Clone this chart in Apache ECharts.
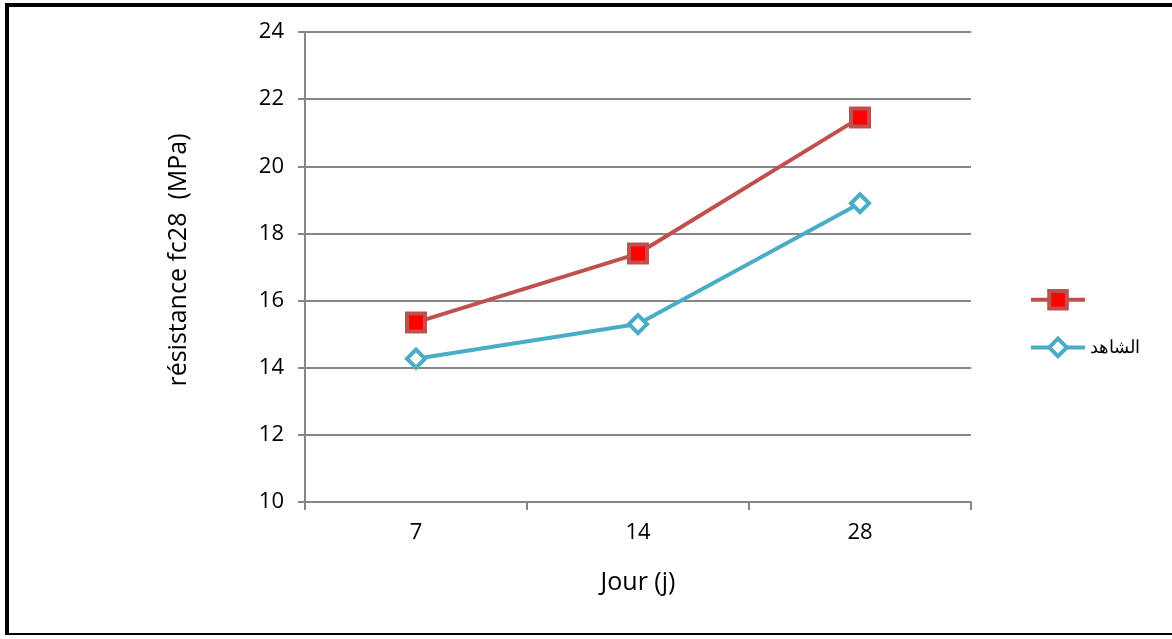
<!DOCTYPE html>
<html>
<head>
<meta charset="utf-8">
<script src="https://cdn.jsdelivr.net/npm/echarts@6/dist/echarts.min.js"></script>
<style>
  html, body { margin: 0; padding: 0; background: #fff; }
  #frame { position: absolute; left: 5px; top: 3px; width: 1175px; height: 632px;
           border-left: 4px solid #000; border-top: 4px solid #000; border-bottom: 2px solid #000; box-sizing: border-box; }
  #chart { position: absolute; left: 0; top: 0; width: 1172px; height: 639px; }
</style>
</head>
<body>
<div id="frame"></div>
<div id="chart"></div>
<script>
// Compressive strength over curing age
const days = ['7', '14', '28'];
const seriesNames = [' ', 'الشاهد'];
const mixValues = [15.35, 17.4, 21.45];
const controlValues = [14.27, 15.3, 18.9];
const yTicks = { min: 10, max: 24, step: 2 };

const font = '"Open Sans", "Noto Sans", sans-serif';
const gridColor = '#878787';

const chart = echarts.init(document.getElementById('chart'), null, { renderer: 'canvas' });
chart.setOption({
  animation: false,
  backgroundColor: 'transparent',
  grid: { left: 305, top: 32, width: 666, height: 470 },
  legend: {
    orient: 'vertical',
    left: 1024,
    top: 284,
    itemWidth: 54,
    itemHeight: 22,
    itemGap: 26,
    lineStyle: { width: 4 },
    itemStyle: { borderWidth: 4 },
    textStyle: { fontFamily: font, fontSize: 18, color: '#000' },
    data: seriesNames
  },
  xAxis: {
    type: 'category',
    data: days,
    boundaryGap: true,
    name: 'Jour (j)',
    nameLocation: 'middle',
    nameGap: 68,
    nameTextStyle: { fontFamily: font, fontSize: 25, color: '#000' },
    axisLine: { lineStyle: { color: gridColor, width: 2 } },
    axisTick: { show: true, interval: 0, length: 8, lineStyle: { color: gridColor, width: 2 } },
    axisLabel: { fontFamily: font, fontSize: 22, color: '#000', margin: 20 }
  },
  yAxis: {
    type: 'value',
    min: yTicks.min,
    max: yTicks.max,
    interval: yTicks.step,
    name: 'résistance fc28  (MPa)',
    nameLocation: 'middle',
    nameGap: 114,
    nameRotate: 90,
    nameTextStyle: { fontFamily: font, fontSize: 25, color: '#000', padding: [0, 0, 0, 14] },
    axisLine: { show: true, lineStyle: { color: gridColor, width: 2 } },
    axisTick: { show: true, length: 7, lineStyle: { color: gridColor, width: 2 } },
    axisLabel: { fontFamily: font, fontSize: 22, color: '#000', margin: 21 },
    splitLine: { lineStyle: { color: gridColor, width: 2 } }
  },
  series: [
    {
      name: seriesNames[0],
      type: 'line',
      data: mixValues,
      symbol: 'rect',
      symbolSize: 18,
      lineStyle: { color: '#C0504D', width: 4 },
      itemStyle: { color: '#FF0000', borderColor: '#C0504D', borderWidth: 4, borderRadius: 2 }
    },
    {
      name: seriesNames[1],
      type: 'line',
      data: controlValues,
      symbol: 'diamond',
      symbolSize: 18,
      lineStyle: { color: '#4BACC6', width: 4 },
      itemStyle: { color: '#FFFFFF', borderColor: '#4BACC6', borderWidth: 4 }
    }
  ]
});
</script>
</body>
</html>
